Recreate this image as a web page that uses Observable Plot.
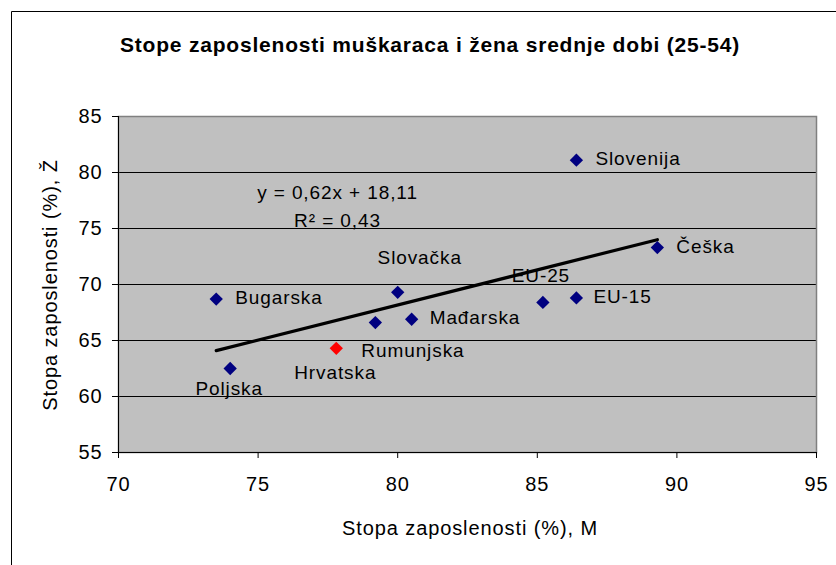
<!DOCTYPE html>
<html>
<head>
<meta charset="utf-8">
<script src="https://cdn.jsdelivr.net/npm/d3@7"></script>
<script src="https://cdn.jsdelivr.net/npm/@observablehq/plot@0.6"></script>
<style>
  html, body { margin: 0; padding: 0; background: #fff; }
  #chart svg { display: block; }
  #chart svg text { letter-spacing: 0.9px; }
  #chart svg text.title { letter-spacing: 0.8px; }
</style>
</head>
<body>
<div id="chart"></div>
<script>
// ---- data ----
const countries = ["Slovenija", "Češka", "EU-15", "EU-25", "Slovačka", "Bugarska", "Mađarska", "Rumunjska", "Hrvatska", "Poljska"];
const menRate   = [86.4, 89.3, 86.4, 85.2, 80.0, 73.5, 80.5, 79.2, 77.8, 74.0];
const womenRate = [81.1, 73.3, 68.8, 68.4, 69.3, 68.7, 66.9, 66.6, 64.3, 62.5];
const highlighted = ["Hrvatska"];
const trendX = [73.5, 89.3];
const trendY = [64.1, 74.0];
const xTicks = [70, 75, 80, 85, 90, 95];
const yTicks = [55, 60, 65, 70, 75, 80, 85];
const titleText = "Stope zaposlenosti muškaraca i žena srednje dobi (25-54)";
const xLabel = "Stopa zaposlenosti (%), M";
const yLabel = "Stopa zaposlenosti (%), Ž";
const equationLines = ["y = 0,62x + 18,11", "R² = 0,43"];

// ---- label placement (layout only) ----
const labelPlacement = {
  "Slovenija": {dx: 19, dy: -1, anchor: "start"},
  "Češka":     {dx: 19, dy: -1, anchor: "start"},
  "EU-15":     {dx: 17, dy: -1, anchor: "start"},
  "EU-25":     {dx: -2, dy: -27, anchor: "middle"},
  "Slovačka":  {dx: 22, dy: -34, anchor: "middle"},
  "Bugarska":  {dx: 19, dy: -1, anchor: "start"},
  "Mađarska":  {dx: 18, dy: -1, anchor: "start"},
  "Rumunjska": {dx: -14, dy: 28, anchor: "start"},
  "Hrvatska":  {dx: -1, dy: 25, anchor: "middle"},
  "Poljska":   {dx: -1, dy: 20, anchor: "middle"}
};

const points = countries.map((c, i) => ({country: c, m: menRate[i], z: womenRate[i], hi: highlighted.includes(c)}));
const trend = trendX.map((x, i) => ({x, y: trendY[i]}));

const W = 836, H = 565;
const ML = 118, MR = 20, MT = 116, MB = 113;
const font = "'Liberation Sans', Arial, sans-serif";

const labelMarks = points.map(p => {
  const pl = labelPlacement[p.country];
  return Plot.text([p], {x: "m", y: "z", text: "country", dx: pl.dx, dy: pl.dy,
    textAnchor: pl.anchor, fontSize: 19, fill: "#000"});
});

const chart = Plot.plot({
  width: W, height: H,
  marginLeft: ML, marginRight: MR, marginTop: MT, marginBottom: MB,
  style: {fontFamily: font, fontSize: "20px", color: "#000", background: "transparent", overflow: "visible"},
  x: {domain: [70, 95]},
  y: {domain: [55, 85]},
  marks: [
    Plot.frame({fill: "#C0C0C0", stroke: null}),
    Plot.gridY(yTicks.filter(t => t > 55 && t < 85), {stroke: "#000", strokeOpacity: 1, strokeWidth: 1}),
    Plot.frame({stroke: "#808080", strokeWidth: 1.5}),
    Plot.ruleX([70], {stroke: "#000", strokeWidth: 1}),
    Plot.ruleY([55], {stroke: "#000", strokeWidth: 1}),
    Plot.axisX({ticks: xTicks, tickSize: 6, tickPadding: 18, label: null, fontSize: 20, stroke: "#000", tickFormat: d => String(d)}),
    Plot.axisY({ticks: yTicks, tickSize: 6, tickPadding: 10, label: null, fontSize: 20, stroke: "#000", tickFormat: d => String(d)}),
    Plot.line(trend, {x: "x", y: "y", stroke: "#000", strokeWidth: 3.2}),
    Plot.dot(points, {x: "m", y: "z", symbol: "diamond2", r: 6, fill: d => d.hi ? "#FF0000" : "#000080", stroke: null}),
    ...labelMarks,
    Plot.text([equationLines[0]], {frameAnchor: "top-left", dx: 219, dy: 69, text: d => d, textAnchor: "middle", fontSize: 19}),
    Plot.text([equationLines[1]], {frameAnchor: "top-left", dx: 219, dy: 97, text: d => d, textAnchor: "middle", fontSize: 19})
  ]
});

document.getElementById("chart").appendChild(chart);

const svg = d3.select(chart);
// outer chart border (extends beyond the visible area)
svg.insert("path", ":first-child")
  .attr("d", `M11.5,${H} V11.5 H${W}`)
  .attr("fill", "none").attr("stroke", "#000").attr("stroke-width", 1);

svg.append("text")
  .attr("class", "title")
  .attr("x", 430).attr("y", 45).attr("dy", "0.35em")
  .attr("text-anchor", "middle")
  .attr("font-family", font).attr("font-weight", "bold").attr("font-size", 21)
  .attr("fill", "#000")
  .text(titleText);

svg.append("text")
  .attr("x", 470).attr("y", 528).attr("dy", "0.35em")
  .attr("text-anchor", "middle")
  .attr("font-family", font).attr("font-size", 20).attr("fill", "#000")
  .text(xLabel);

svg.append("text")
  .attr("transform", "translate(50,285) rotate(-90)")
  .attr("dy", "0.35em")
  .attr("text-anchor", "middle")
  .attr("font-family", font).attr("font-size", 20).attr("fill", "#000")
  .text(yLabel);
</script>
</body>
</html>
